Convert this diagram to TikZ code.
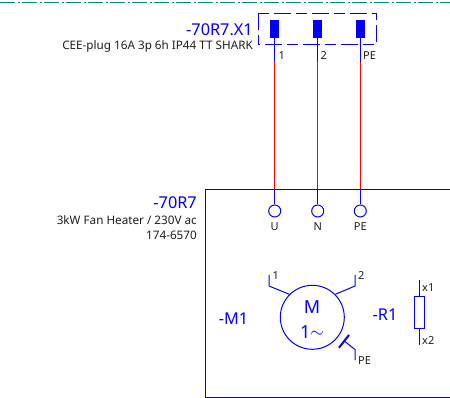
\documentclass[tikz,border=0pt]{standalone}
\usepackage{fontspec}
\setmainfont{Noto Sans}
\definecolor{eblue}{RGB}{0,0,255}
\definecolor{eteal}{RGB}{0,140,130}
\definecolor{ered}{RGB}{255,0,0}
\definecolor{etxt}{RGB}{30,30,30}
\tikzset{
  wire/.style={eblue,line width=1pt},
  redwire/.style={ered,line width=1pt},
  pin/.style={fill=eblue,draw=none,inner sep=0pt,minimum width=9.5pt,minimum height=17.5pt},
  term/.style={circle,draw=eblue,line width=1pt,fill=white,inner sep=0pt,minimum size=12pt},
  small/.style={text=etxt,font=\fontsize{11.7}{13}\selectfont,inner sep=0pt},
  tiny/.style={text=etxt,font=\fontsize{11}{13}\selectfont,inner sep=0pt},
  big/.style={text=eblue,font=\fontsize{16.3}{19}\selectfont,inner sep=0pt},
  huge/.style={text=eblue,font=\fontsize{18}{21}\selectfont,inner sep=0pt},
  joint/.style={inner sep=0pt,minimum size=0pt}
}
\begin{document}
\begin{tikzpicture}[x=1pt,y=-1pt]
\useasboundingbox (0,0) rectangle (450,398);
% title-block line
\coordinate (tl) at (0,2.5); \coordinate (tr) at (450,2.5);
\draw[eteal,line width=1pt,dash pattern=on 15pt off 2.5pt on 2pt off 2.5pt] (tl) -- (tr);
% plug
\draw[eblue,line width=1pt,dash pattern=on 17pt off 5pt on 11pt off 5pt] (258.5,13.5) rectangle (376,45);
\node[pin] (p1) at (274.7,29) {};
\node[pin] (p2) at (317.7,29) {};
\node[pin] (p3) at (360.3,29) {};
\coordinate (b1) at (274.7,61.7); \coordinate (b2) at (317.7,61.7); \coordinate (b3) at (360.3,61.7);
\node[term] (u) at (274.7,211) {};
\node[term] (n) at (317.7,211) {};
\node[term] (pe) at (360.3,211) {};
\coordinate (t1) at (274.7,189.3); \coordinate (t2) at (317.7,189.3); \coordinate (t3) at (360.3,189.3);
\foreach \a/\b/\c/\d in {p1/b1/t1/u,p2/b2/t2/n,p3/b3/t3/pe}{
  \draw[wire] (\a.south) -- (\b);
  \draw[redwire] (\b) -- (\c);
  \draw[wire] (\c) -- (\d.north);
}
\draw[eblue,line width=1pt] (450,189.3) -- (205.3,189.3) -- (205.3,397) -- (450,397);
% labels
\node[big,anchor=east] (l1) at (253,29.5) {-70R7.X1};
\node[small,anchor=east] (l2) at (253,46) {CEE-plug 16A 3p 6h IP44 TT SHARK};
\node[tiny,anchor=west] (c1) at (278.5,56) {1};
\node[tiny,anchor=west] (c2) at (320.5,56) {2};
\node[tiny,anchor=west] (c3) at (363,56) {PE};
\node[big,anchor=east] (l3) at (197,203) {-70R7};
\node[small,anchor=east] (l4) at (197,220) {3kW Fan Heater / 230V ac};
\node[small,anchor=east] (l5) at (197,235) {174-6570};
\node[tiny] (tu) at (274.7,227) {U};
\node[tiny] (tn) at (317.7,227) {N};
\node[tiny] (tp) at (360.3,227) {PE};
% motor
\node[circle,draw=eblue,line width=1pt,inner sep=0pt,minimum size=64pt] (m) at (312.3,317.3) {};
\node[huge] (mm) at (312,307) {M};
\node[huge] (mo) at (312,332) {1\raisebox{1pt}{$\sim$}};
\node[big] (m1) at (233.5,319) {-M1};
\node[big] (r1) at (385,314.5) {-R1};
\coordinate (a1) at (269,286); \coordinate (a2) at (269,275);
\coordinate (c3a) at (355,286); \coordinate (c3b) at (355,275);
\coordinate (e1) at (344.3,341); \coordinate (e2) at (355,349.5); \coordinate (e3) at (355,360);
\coordinate (e4) at (339,347.7); \coordinate (e5) at (349,335);
\draw[wire] (m.135) -- (a1) -- (a2);
\draw[wire] (m.45) -- (c3a) -- (c3b);
\draw[wire] (e1) -- (e2) -- (e3);
\draw[eblue,line width=2pt] (e4) -- (e5);
\node[tiny,anchor=west] (ml1) at (272.5,276) {1};
\node[tiny,anchor=west] (ml2) at (358,276) {2};
\node[tiny,anchor=west] (ml3) at (358,361) {PE};
% resistor
\node[draw=eblue,line width=1pt,inner sep=0pt,minimum width=10.3pt,minimum height=31.6pt] (res) at (419.2,312.5) {};
\coordinate (r2) at (419.2,280); \coordinate (r3) at (419.2,344.5);
\draw[wire] (r2) -- (res.north);
\draw[wire] (res.south) -- (r3);
\node[tiny,anchor=west] (x1) at (422,287.5) {x1};
\node[tiny,anchor=west] (x2) at (422,340.5) {x2};
\end{tikzpicture}
\end{document}
